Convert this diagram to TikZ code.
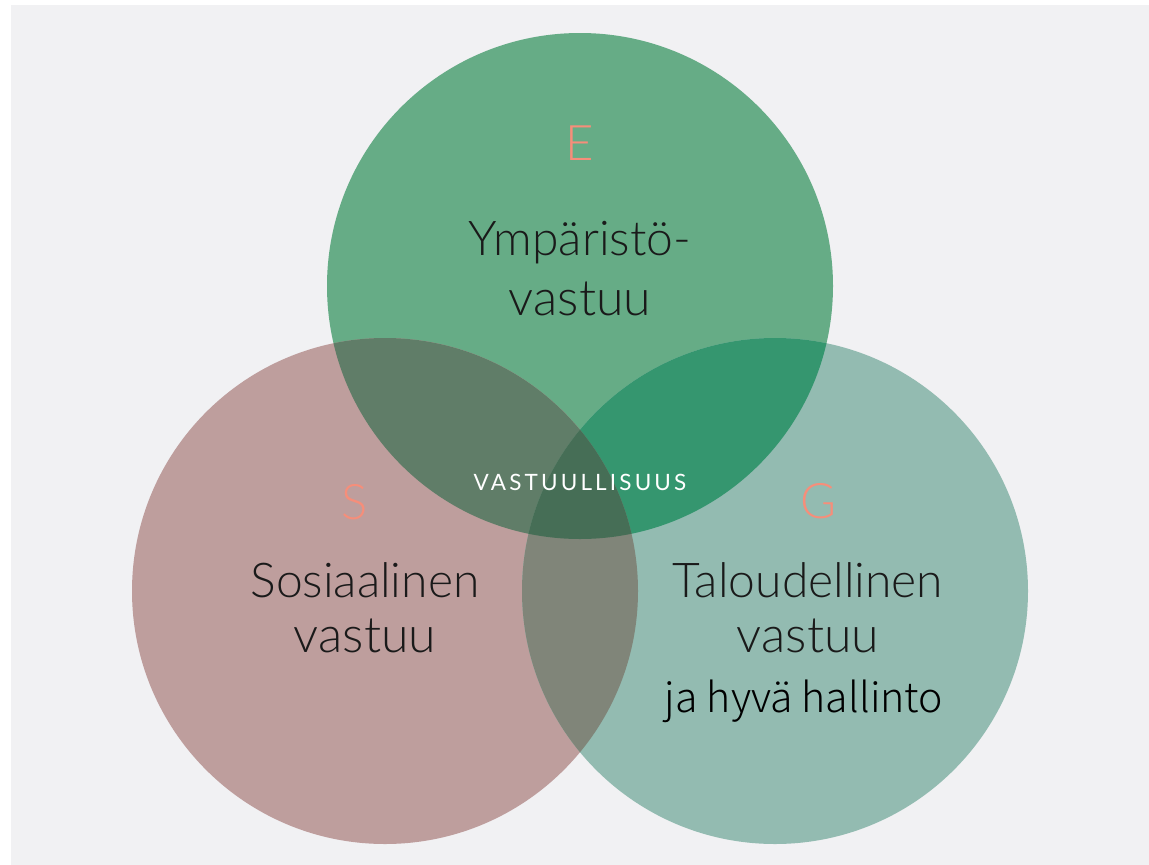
\documentclass[tikz,border=0pt]{standalone}
\usepackage{fontspec}
\setmainfont{Lato}[UprightFont=* Light]
\newfontfamily\latoreg{Lato}
\IfFontExistsTF{Noto Sans CJK JP Light}
    {\newfontfamily\gothic{Noto Sans CJK JP Light}}
    {\IfFontExistsTF{DejaVu Sans ExtraLight}
        {\newfontfamily\gothic{DejaVu Sans ExtraLight}}
        {\newfontfamily\gothic{Noto Sans CJK JP}}}

\definecolor{backdrop}{RGB}{241,241,243}
\definecolor{envgreen}{RGB}{102,172,134}
\definecolor{socrose}{RGB}{190,158,157}
\definecolor{govteal}{RGB}{147,187,177}
\definecolor{envsoc}{RGB}{96,125,104}
\definecolor{envgov}{RGB}{53,150,111}
\definecolor{socgov}{RGB}{128,133,121}
\definecolor{allthree}{RGB}{70,110,86}
\definecolor{salmon}{RGB}{246,142,122}
\definecolor{ink}{RGB}{26,26,26}

\tikzset{
    letter/.style={text=salmon, inner sep=0pt, font=\fontsize{49}{55}\selectfont},
    title/.style={text=ink, inner sep=0pt, anchor=base, font=\fontsize{48}{56}\selectfont},
    subtitle/.style={title, font=\fontsize{50}{58}\selectfont},
}

\begin{document}
\begin{tikzpicture}[x=1pt,y=-1pt]
    \useasboundingbox (0,0) rectangle (1149,865);
    \fill[backdrop] (11,5) rectangle (1149,865);

    \coordinate (E) at (580,286);
    \coordinate (S) at (385,591);
    \coordinate (G) at (775,591);

    % the three circles
    \fill[envgreen] (E) circle (253);
    \fill[socrose] (S) circle (253);
    \fill[govteal] (G) circle (253);

    % overlaps
    \begin{scope}
        \clip (E) circle (253);
        \fill[envsoc] (S) circle (253);
        \fill[envgov] (G) circle (253);
    \end{scope}
    \begin{scope}
        \clip (S) circle (253);
        \fill[socgov] (G) circle (253);
    \end{scope}
    \begin{scope}
        \clip (E) circle (253);
        \clip (S) circle (253);
        \fill[allthree] (G) circle (253);
    \end{scope}

    % labels
    \node[letter] (e) at (580,143) {E};
    \node[letter] (s) at (355,502) {S};
    \node[letter] (g) at (818,501) {G};

    \node[title] (ymp) at (580,255) {Ympäristö-};
    \node[subtitle] (ympv) at (580,315) {vastuu};
    \node[title] (sos) at (365,597) {Sosiaalinen};
    \node[subtitle] (sosv) at (365,652) {vastuu};
    \node[title] (tal) at (808,597) {Taloudellinen};
    \node[subtitle] (talv) at (808,652) {vastuu};
    \node[anchor=base, inner sep=0pt, text=black, font=\gothic\fontsize{41}{47}\selectfont] (hall) at (804,712) {ja hyvä hallinto};

    \node[text=white, inner sep=0pt, font=\latoreg\fontsize{22.5}{26}\selectfont\addfontfeature{LetterSpace=14}] (vast) at (580,482) {VASTUULLISUUS};
\end{tikzpicture}
\end{document}
